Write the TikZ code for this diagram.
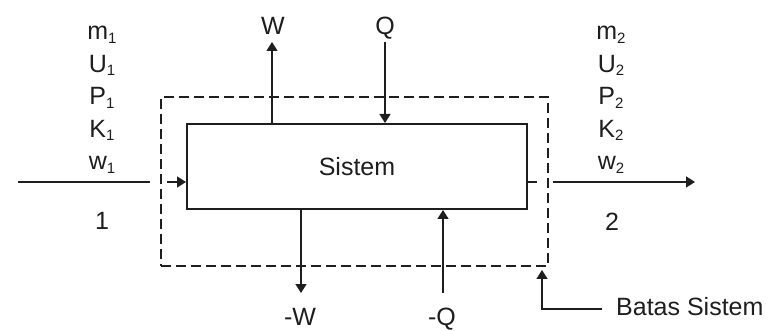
\documentclass[tikz,border=0pt]{standalone}
\usepackage{fontspec}
\setmainfont{Liberation Sans}
\usetikzlibrary{arrows.meta}
\definecolor{ink}{RGB}{30,30,30}
\newcommand{\sbs}[1]{\raisebox{-3.5pt}{\fontsize{15}{15}\selectfont #1}}
\begin{document}
\begin{tikzpicture}[x=1pt,y=-1pt,
  lbl/.style={font=\fontsize{25}{30}\selectfont, text=ink, inner sep=0pt, anchor=base},
  arr/.style={draw=ink, line width=1.5pt, -{Triangle[length=9pt,width=11pt]}},
  ln/.style={draw=ink, line width=1.5pt},
  boundary/.style={draw=ink, line width=2.8pt, dash pattern=on 10pt off 5pt, minimum width=387pt, minimum height=169pt, inner sep=0pt},
  sysbox/.style={draw=ink, line width=2pt, minimum width=340pt, minimum height=85pt, inner sep=0pt, font=\fontsize{25}{30}\selectfont, text=ink}]
\useasboundingbox (0,0) rectangle (774,331);
% boundary and system
\node[boundary] (bnd) at (354.5,181.5) {};
\node[sysbox] (sys) at (357,166.5) {Sistem};
% left stack
\node[lbl] (lm) at (102,40) {m\sbs{1}};
\node[lbl] (lu) at (102,72.5) {U\sbs{1}};
\node[lbl] (lp) at (102,105) {P\sbs{1}};
\node[lbl] (lk) at (102,137.5) {K\sbs{1}};
\node[lbl] (lw) at (102,170) {w\sbs{1}};
\node[lbl] (l1) at (102,230) {1};
% right stack
\node[lbl] (rm) at (611,40) {m\sbs{2}};
\node[lbl] (ru) at (611,72.5) {U\sbs{2}};
\node[lbl] (rp) at (611,105) {P\sbs{2}};
\node[lbl] (rk) at (611,137.5) {K\sbs{2}};
\node[lbl] (rw) at (611,170) {w\sbs{2}};
\node[lbl] (r2) at (612,231) {2};
% work / heat labels
\node[lbl] (W) at (273,35) {W};
\node[lbl] (Q) at (385,35) {Q};
\node[lbl] (mW) at (300,325) {-W};
\node[lbl] (mQ) at (442,325) {-Q};
\node[lbl, anchor=base west] (batas) at (616,315) {Batas Sistem};
% coordinates
\coordinate (wtip) at (272,42);
\coordinate (qtop) at (385,42);
\coordinate (mwtip) at (301,293);
\coordinate (mqbot) at (443,293);
\coordinate (in0) at (18,182);
\coordinate (in1) at (150,182);
\coordinate (in2) at (167,182);
\coordinate (out0) at (537,182);
\coordinate (out1) at (553,182);
\coordinate (out2) at (695,182);
\coordinate (bline) at (602,309);
\coordinate (bcorner) at (542,309);
\coordinate (btip) at (542,270);
% connectors
\draw[arr] (sys.north -| wtip) -- (wtip);
\draw[arr] (qtop) -- (sys.north -| qtop);
\draw[arr] (sys.south -| mwtip) -- (mwtip);
\draw[arr] (mqbot) -- (sys.south -| mqbot);
\draw[ln] (in0) -- (in1);
\draw[arr] (in2) -- (sys.west |- in2);
\draw[ln] (sys.east |- out0) -- (out0);
\draw[arr] (out1) -- (out2);
\draw[arr] (bline) -- (bcorner) -- (btip);
\end{tikzpicture}
\end{document}
